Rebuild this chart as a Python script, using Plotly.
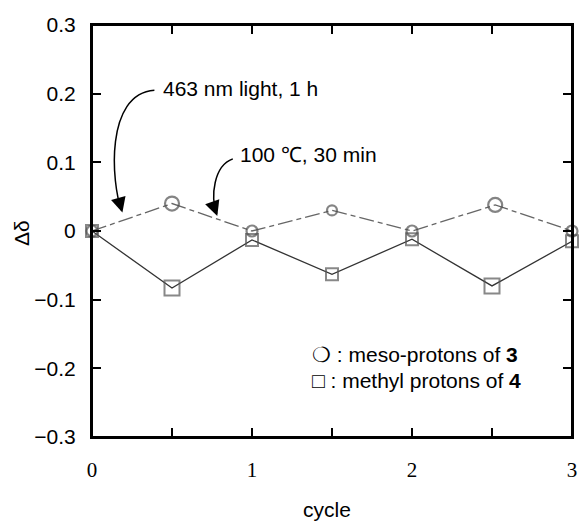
import plotly.graph_objects as go

# Data
cycle_meso = [0, 0.5, 1, 1.5, 2, 2.52, 3]
delta_meso = [0, 0.04, 0, 0.03, 0, 0.038, 0]
cycle_methyl = [0, 0.5, 1, 1.5, 2, 2.5, 3]
delta_methyl = [0, -0.083, -0.013, -0.063, -0.012, -0.08, -0.015]
x_ticks = [0, 0.5, 1, 1.5, 2, 2.5, 3]
x_ticklabels = ["0", "", "1", "", "2", "", "3"]
y_ticks = [0.3, 0.2, 0.1, 0, -0.1, -0.2, -0.3]
y_ticklabels = ["0.3", "0.2", "0.1", "0", "\u22120.1", "\u22120.2", "\u22120.3"]

SANS = "Liberation Sans, Arial, sans-serif"
SERIF = "Liberation Serif, Times New Roman, serif"

fig = go.Figure()

fig.add_trace(go.Scatter(
    x=cycle_methyl, y=delta_methyl, mode="lines+markers",
    line=dict(color="#333333", width=1.3),
    marker=dict(symbol="square-open", size=[12, 15, 12, 12, 12, 15, 12],
                color="#555555", line=dict(width=2, color="#555555")),
    showlegend=False, hoverinfo="skip", cliponaxis=False))

fig.add_trace(go.Scatter(
    x=cycle_meso, y=delta_meso, mode="lines+markers",
    line=dict(color="#666666", width=1.3, dash="15px,4px,5px,4px"),
    marker=dict(symbol="circle-open", size=[11, 14, 11, 10, 11, 14, 11],
                color="#505050", line=dict(width=2.2, color="#505050")),
    showlegend=False, hoverinfo="skip", cliponaxis=False))

# frame
fig.add_shape(type="rect", xref="paper", yref="paper", x0=0, x1=1, y0=0, y1=1,
              line=dict(color="black", width=2), layer="above")

# curved arrows
arrows = [
    "M 0.39,0.205 C 0.08,0.20 0.12,0.07 0.185,0.03",
    "M 0.88,0.105 C 0.76,0.095 0.74,0.05 0.78,0.025",
]
for p in arrows:
    fig.add_shape(type="path", path=p, xref="x", yref="y",
                  line=dict(color="black", width=1.5))

fig.add_annotation(x=0.19, y=0.027, ax=-4, ay=-14, text="", showarrow=True,
                   arrowhead=2, arrowsize=2, arrowwidth=1.5, arrowcolor="black",
                   xref="x", yref="y")
fig.add_annotation(x=0.783, y=0.022, ax=-5, ay=-14, text="", showarrow=True,
                   arrowhead=2, arrowsize=2, arrowwidth=1.5, arrowcolor="black",
                   xref="x", yref="y")

fig.add_annotation(x=0.43, y=0.208, text="463 nm light, 1 h", showarrow=False,
                   xanchor="left", yanchor="middle",
                   font=dict(family=SANS, size=21, color="black"))
fig.add_annotation(x=0.915, y=0.112, text="100 \u2103, 30 min", showarrow=False,
                   xanchor="left", yanchor="middle",
                   font=dict(family=SANS, size=21, color="black"))

fig.add_annotation(x=1.36, y=-0.18, text="\u274d : meso-protons of <b>3</b>",
                   showarrow=False, xanchor="left", yanchor="middle",
                   font=dict(family=SANS, size=21, color="black"))
fig.add_annotation(x=1.36, y=-0.218, text="\u25a1 : methyl protons of <b>4</b>",
                   showarrow=False, xanchor="left", yanchor="middle",
                   font=dict(family=SANS, size=21, color="black"))

# axis titles
fig.add_annotation(x=-0.148, y=0.495, xref="paper", yref="paper", text="\u0394\u03b4",
                   textangle=-90, showarrow=False, xanchor="center", yanchor="middle",
                   font=dict(family=SANS, size=21, color="black"))
fig.add_annotation(x=0.49, y=-0.177, xref="paper", yref="paper", text="cycle",
                   showarrow=False, xanchor="center", yanchor="middle",
                   font=dict(family=SANS, size=21, color="black"))

fig.update_xaxes(range=[0, 3], tickvals=x_ticks, ticktext=x_ticklabels,
                 ticks="inside", ticklen=9, tickwidth=1.5, tickcolor="black",
                 showline=True, linecolor="black", linewidth=2, mirror="allticks",
                 showgrid=False, zeroline=False, ticklabelstandoff=13,
                 ticklabeloverflow="allow",
                 tickfont=dict(family=SERIF, size=21, color="black"))
fig.update_yaxes(range=[-0.3, 0.3], tickvals=y_ticks, ticktext=y_ticklabels,
                 ticks="inside", ticklen=9, tickwidth=1.5, tickcolor="black",
                 showline=True, linecolor="black", linewidth=2, mirror="allticks",
                 showgrid=False, zeroline=False, ticklabelstandoff=10,
                 ticklabeloverflow="allow",
                 tickfont=dict(family=SANS, size=21, color="black"))

fig.update_layout(width=580, height=521, margin=dict(l=92, r=3, t=25, b=84),
                  plot_bgcolor="white", paper_bgcolor="white")

fig.write_html("out.html", config={"displayModeBar": False},
               post_script="document.body.style.margin='0px';document.body.style.overflow='hidden';")
